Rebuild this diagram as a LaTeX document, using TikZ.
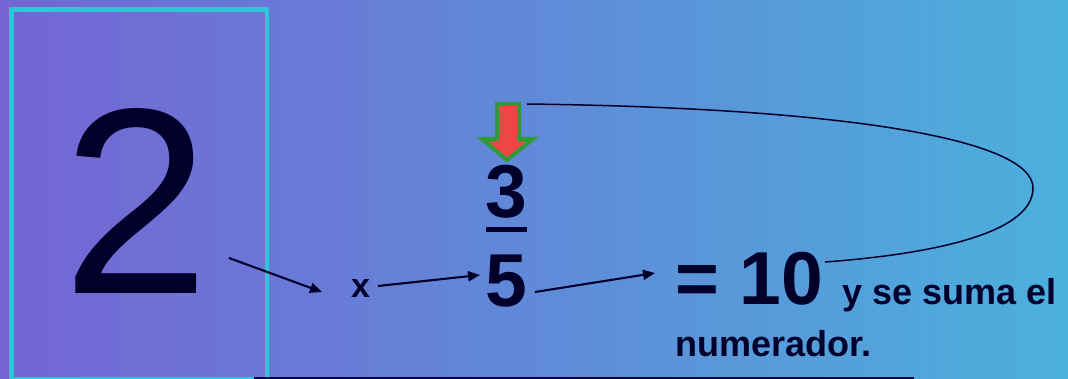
\documentclass[tikz,border=0pt]{standalone}
\usepackage{fontspec}
\setmainfont{Liberation Sans}
\usetikzlibrary{arrows.meta}
\definecolor{ink}{HTML}{00002A}
\definecolor{bgleft}{HTML}{7564D4}
\definecolor{bgright}{HTML}{4BB0DC}
\definecolor{framecyan}{HTML}{30C6DA}
\definecolor{arrowred}{HTML}{EF4545}
\definecolor{arrowgreen}{HTML}{2E9A3A}

\begin{document}
\begin{tikzpicture}[x=1pt,y=-1pt]
	 \tikzstyle{digit}=[inner sep=0pt,text=ink,anchor=base]
	 \tikzstyle{edge} = [draw,line width=2.1pt,ink,-{Triangle[length=12pt,width=10pt]}]
	 \useasboundingbox (0,0) rectangle (1068,379);
	 \shade[left color=bgleft,right color=bgright] (0,0) rectangle (1068,379);
	 \draw[framecyan,line width=4.5pt] (11.5,9.5) rectangle (267,379.5);
	 \draw[ink!85!blue,line width=2.5pt] (254,378.5) -- (914,378.5);

	 \node[digit,font=\fontsize{265pt}{265pt}\selectfont] (two) at (136,294) {2};
	 \node[digit,font=\fontsize{34pt}{34pt}\selectfont\bfseries] (times) at (360.5,298) {x};
	 \node[digit,font=\fontsize{75pt}{75pt}\selectfont\bfseries] (num) at (506,218) {3};
	 \node[digit,font=\fontsize{75pt}{75pt}\selectfont\bfseries] (den) at (506,307) {5};
	 \node[digit,anchor=base west,font=\fontsize{75pt}{75pt}\selectfont\bfseries] (res) at (675,305) {= 10};
	 \node[digit,anchor=base west,font=\fontsize{36pt}{36pt}\selectfont\bfseries] (add) at (842,305) {y se suma el};
	 \node[digit,anchor=base west,font=\fontsize{36pt}{36pt}\selectfont\bfseries] (add2) at (675,356) {numerador.};

	 % fraction bar
	 \draw[ink,line width=5.5pt] ([shift={(-20,11.5)}]num.base) -- ([shift={(21,11.5)}]num.base);

	 % red arrow pointing at the numerator
	 \draw[arrowgreen,fill=arrowred,line width=4pt,line join=miter]
	   (497,104) -- (519,104) -- (519,139) -- (533,139) -- (507,160) -- (482,139) -- (497,139) -- cycle;
	 \coordinate (dn) at (527,104);

	 \draw[edge] ([shift={(93,-36)}]two.base) -- ([shift={(-38.5,-6)}]times.base);
	 \draw[edge] ([shift={(17.5,-12)}]times.base) -- ([shift={(-26,-32)}]den.base);
	 \draw[edge] ([shift={(29,-15)}]den.base) -- ([shift={(-20,-32)}]res.base west);
	 \draw[ink,line width=1.5pt] (dn) .. controls (850,108) and (1033,140) .. (1033,188)
	   .. controls (1033,236) and (920,255) .. ([shift={(150,-43)}]res.base west);
 \end{tikzpicture}
\end{document}
